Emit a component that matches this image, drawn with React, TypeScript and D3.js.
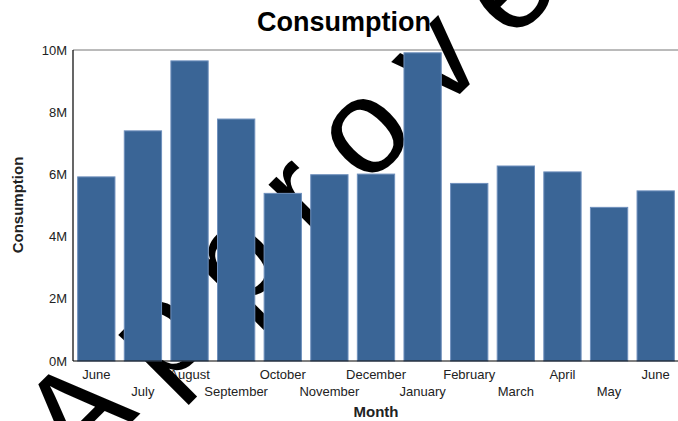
import React from "react";
import * as d3 from "d3";

const months = ["June", "July", "August", "September", "October", "November", "December", "January", "February", "March", "April", "May", "June"];
const consumption = [5.92, 7.40, 9.65, 7.78, 5.39, 5.99, 6.01, 9.91, 5.71, 6.27, 6.08, 4.94, 5.47].map((v) => v * 1e6);
const yTicks = [0, 2e6, 4e6, 6e6, 8e6, 10e6];
const watermark = "Approved";

const W = 678;
const H = 421;
const left = 73;
const right = 679;
const top = 50;
const bottom = 361;
const font = "'Liberation Sans', Arial, sans-serif";

export default function App() {
  const x = d3
    .scaleBand<number>()
    .domain(months.map((_, i) => i))
    .range([left, right])
    .paddingInner(0.2)
    .paddingOuter(0.1);
  const y = d3.scaleLinear().domain([0, 10e6]).range([bottom, top]);
  const fmt = (v: number) => `${Math.round(v / 1e6)}M`;

  return (
    <svg
      width={W}
      height={H}
      style={{ position: "absolute", left: 0, top: 0, background: "#fff" }}
      fontFamily={font}
    >
      <text x={344} y={31} textAnchor="middle" fontSize={27} fontWeight="bold" fill="#000">
        Consumption
      </text>
      <line x1={left} x2={W} y1={top} y2={top} stroke="#777" strokeWidth={1} />
      {yTicks.map((t) => (
        <text key={t} x={67} y={y(t)} dy="0.35em" textAnchor="end" fontSize={13} fill="#222">
          {fmt(t)}
        </text>
      ))}
      {months.map((m, i) => (
        <text
          key={i}
          x={(x(i) as number) + x.bandwidth() / 2}
          y={i % 2 === 0 ? 379 : 396}
          textAnchor="middle"
          fontSize={13}
          fill="#222"
        >
          {m}
        </text>
      ))}
      <text x={376} y={417} textAnchor="middle" fontSize={15} fontWeight="bold" fill="#222">
        Month
      </text>
      <text
        transform={`translate(23, 205) rotate(-90)`}
        textAnchor="middle"
        fontSize={15}
        fontWeight="bold"
        fill="#222"
      >
        Consumption
      </text>
      <text
        transform={`translate(77, 477) rotate(-45)`}
        fontSize={135}
        letterSpacing={31}
        fill="#000"
        fontFamily={font}
      >
        {watermark}
      </text>
      {consumption.map((v, i) => (
        <rect
          key={i}
          x={x(i) as number}
          y={y(v)}
          width={x.bandwidth()}
          height={bottom - y(v)}
          fill="#3a6596"
          stroke="#6f90bd"
          strokeWidth={1}
        />
      ))}
      <line x1={left} x2={W} y1={bottom} y2={bottom} stroke="#000" strokeWidth={1.2} />
      <line x1={left} x2={left} y1={top} y2={bottom} stroke="#000" strokeWidth={1.2} />
    </svg>
  );
}
